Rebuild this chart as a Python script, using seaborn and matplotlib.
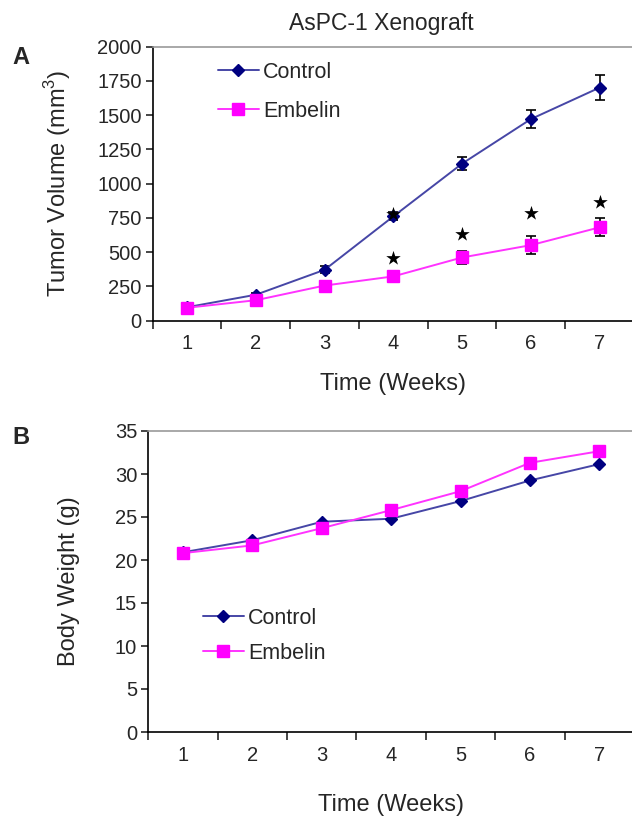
import pandas as pd
import matplotlib
matplotlib.use("Agg")
import matplotlib.pyplot as plt
import seaborn as sns

weeks = [1, 2, 3, 4, 5, 6, 7]

# Panel A: tumor volume (mm3), mean and error
tumor_control = [97, 188, 370, 760, 1145, 1470, 1700]
tumor_control_err = [10, 15, 25, 30, 50, 65, 93]
tumor_embelin = [93, 148, 255, 322, 460, 550, 680]
tumor_embelin_err = [10, 12, 15, 35, 50, 66, 65]

# significance stars (week, height)
star_weeks = [4, 4, 5, 6, 7]
star_heights = [455, 780, 630, 782, 866]

# Panel B: body weight (g)
weight_control = [20.9, 22.3, 24.45, 24.8, 26.85, 29.25, 31.15]
weight_embelin = [20.8, 21.7, 23.7, 25.8, 28.0, 31.3, 32.65]

groups = ["Control", "Embelin"]
colors = {"Control": "#000080", "Embelin": "#FF00FF"}
line_colors = {"Control": "#4646A6", "Embelin": "#FF33FF"}
markers = {"Control": "D", "Embelin": "s"}
marker_sizes = {"Control": 6.5, "Embelin": 8.5}

sns.set_style("ticks")
plt.rcParams["font.family"] = ["Liberation Sans", "DejaVu Sans"]
plt.rcParams["mathtext.fontset"] = "custom"
plt.rcParams["mathtext.rm"] = "Liberation Sans"

tumor_df = pd.DataFrame({
    "week": weeks * 2,
    "value": tumor_control + tumor_embelin,
    "err": tumor_control_err + tumor_embelin_err,
    "group": ["Control"] * 7 + ["Embelin"] * 7,
})
weight_df = pd.DataFrame({
    "week": weeks * 2,
    "value": weight_control + weight_embelin,
    "group": ["Control"] * 7 + ["Embelin"] * 7,
})

fig = plt.figure(figsize=(6.32, 8.16), dpi=100)
ax_a = fig.add_axes([152.7 / 632, 1 - 320.5 / 816, (634 - 152.7) / 632, 274 / 816])
ax_b = fig.add_axes([148.3 / 632, 1 - 732 / 816, (634 - 148.3) / 632, 301 / 816])


def draw_series(ax, df, with_err):
    for g in groups:
        sub = df[df["group"] == g]
        if with_err:
            ax.errorbar(sub["week"], sub["value"], yerr=sub["err"], fmt="none",
                        ecolor="black", elinewidth=1.2, capsize=3.8, capthick=1.2, zorder=2)
        sns.lineplot(data=sub, x="week", y="value", ax=ax, color=line_colors[g],
                     linewidth=1.4, zorder=3, legend=False)
        ax.plot(sub["week"], sub["value"], linestyle="none", marker=markers[g],
                markersize=marker_sizes[g], color=colors[g], zorder=4)


def style_axes(ax, ymax, ystep, xlabelpad):
    ax.set_xlim(0.5, 7.5)
    ax.set_ylim(0, ymax)
    ax.set_xticks([x + 0.5 for x in range(0, 8)])
    ax.set_xticklabels([])
    ax.set_xticks(weeks, minor=True)
    ax.set_xticklabels([str(w) for w in weeks], minor=True)
    ax.tick_params(axis="x", which="minor", length=0, pad=10, labelsize=14.5)
    ax.tick_params(axis="x", which="major", length=6, width=1.2, direction="out")
    ax.set_yticks(range(0, ymax + 1, ystep))
    ax.tick_params(axis="y", length=5, width=1.2, labelsize=14.5, pad=3)
    for s in ["left", "bottom"]:
        ax.spines[s].set_color("black")
        ax.spines[s].set_linewidth(1.2)
    for s in ["top", "right"]:
        ax.spines[s].set_color("#999999")
        ax.spines[s].set_linewidth(1.2)
    ax.set_xlabel("Time (Weeks)", fontsize=17, labelpad=xlabelpad)


def add_legend(ax, x, y, spacing):
    handles = [matplotlib.lines.Line2D([], [], color=line_colors[g], linewidth=1.4,
                                       marker=markers[g], markersize=marker_sizes[g],
                                       markerfacecolor=colors[g], markeredgecolor=colors[g])
               for g in groups]
    ax.legend(handles, groups, loc="upper left", bbox_to_anchor=(x, y), frameon=False,
              fontsize=15.5, handlelength=1.9, handletextpad=0.2, labelspacing=spacing,
              borderpad=0, borderaxespad=0)


# Panel A
draw_series(ax_a, tumor_df, True)
ax_a.scatter(star_weeks, star_heights, marker="*", s=120, color="black", zorder=5, linewidths=0)
style_axes(ax_a, 2000, 250, 14)
ax_a.set_ylabel("Tumor Volume (mm$^3$)", fontsize=17, labelpad=17)
add_legend(ax_a, 0.135, 0.945, 0.85)
ax_a.set_title("AsPC-1 Xenograft", fontsize=16.5, pad=12, x=0.474)

# Panel B
draw_series(ax_b, weight_df, False)
style_axes(ax_b, 35, 5, 21)
ax_b.set_ylabel("Body Weight (g)", fontsize=17, labelpad=25)
add_legend(ax_b, 0.112, 0.413, 0.65)

fig.text(12 / 632, 1 - 58 / 816, "A", fontsize=17, fontweight="bold", va="center")
fig.text(12 / 632, 1 - 438 / 816, "B", fontsize=17, fontweight="bold", va="center")

fig.savefig("out.png", dpi=100)
plt.close(fig)
